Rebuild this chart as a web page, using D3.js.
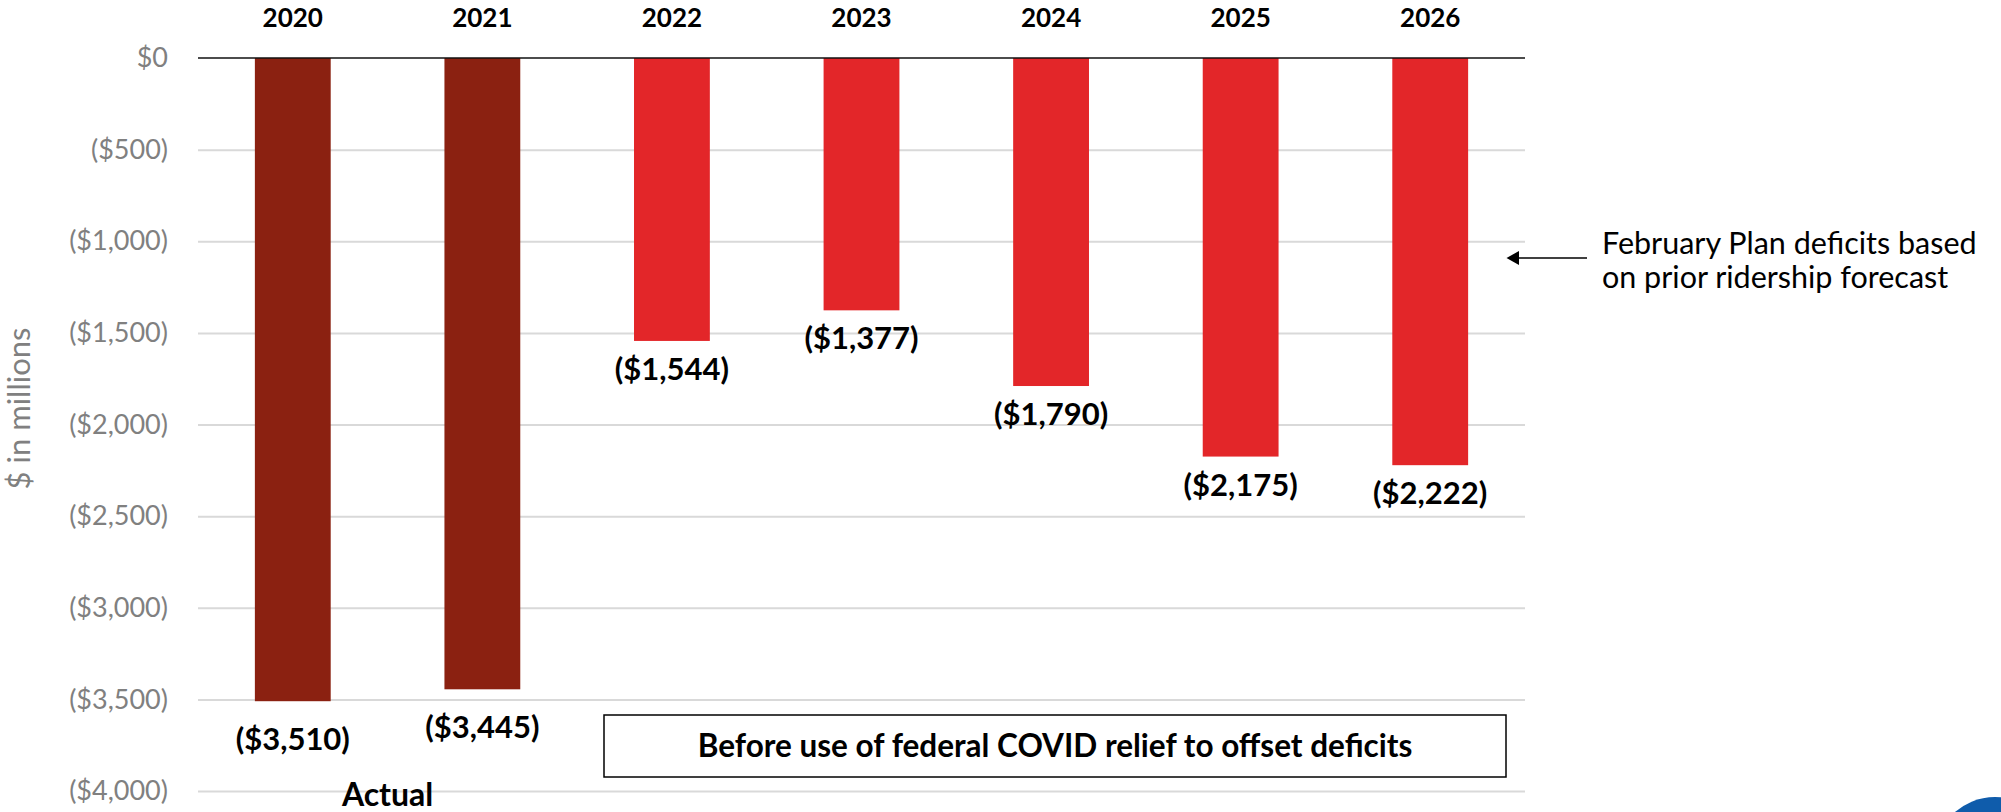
<!DOCTYPE html>
<html>
<head>
<meta charset="utf-8">
<script src="https://cdn.jsdelivr.net/npm/d3@7"></script>
<style>
  html, body { margin: 0; padding: 0; background: #ffffff; }
  svg { display: block; font-family: Lato, "Open Sans", sans-serif; }
</style>
</head>
<body>
<svg id="chart" width="2001" height="812"></svg>
<script>
// Operating deficits by year ($ in millions)
const years = ["2020", "2021", "2022", "2023", "2024", "2025", "2026"];
const deficits = [-3510, -3445, -1544, -1377, -1790, -2175, -2222];
const isActual = [true, true, false, false, false, false, false];
const yTicks = [0, -500, -1000, -1500, -2000, -2500, -3000, -3500, -4000];
const yDomain = [-4000, 0];
const axisTitle = "$ in millions";
const actualLabel = "Actual";
const boxNote = "Before use of federal COVID relief to offset deficits";
const sideNote = ["February Plan deficits based", "on prior ridership forecast"];

const colors = { actual: "#8b2111", forecast: "#e32629", grid: "#d9d9d9", tick: "#808080" };

const svg = d3.select("#chart");
const plot = { left: 198, right: 1525, top: 58, bottom: 791 };

const x = d3.scaleBand()
  .domain(years)
  .range([plot.left, plot.right])
  .paddingInner(0.6)
  .paddingOuter(0.3);

const y = d3.scaleLinear().domain(yDomain).range([plot.bottom, plot.top]);

const money = d3.format(",");
const fmt = v => v === 0 ? "$0" : `($${money(Math.abs(v))})`;

// gridlines + tick labels
const yAxis = d3.axisLeft(y)
  .tickValues(yTicks)
  .tickSize(-(plot.right - plot.left))
  .tickPadding(30)
  .tickFormat(fmt);

const gAxis = svg.append("g")
  .attr("transform", `translate(${plot.left},0)`)
  .call(yAxis);
gAxis.select(".domain").remove();
gAxis.selectAll(".tick line")
  .attr("stroke", d => d === 0 ? "none" : colors.grid)
  .attr("stroke-width", 2);
gAxis.selectAll(".tick text")
  .attr("fill", colors.tick)
  .attr("font-size", 27)
  .attr("font-family", "Lato, sans-serif");

// axis title
svg.append("text")
  .attr("transform", `translate(30,${(plot.top + plot.bottom) / 2 - 16}) rotate(-90)`)
  .attr("text-anchor", "middle")
  .attr("fill", colors.tick)
  .attr("font-size", 31)
  .text(axisTitle);

// bars
const rows = years.map((yr, i) => ({ yr, v: deficits[i], actual: isActual[i] }));

svg.append("g").selectAll("rect")
  .data(rows)
  .join("rect")
  .attr("x", d => x(d.yr))
  .attr("width", x.bandwidth())
  .attr("y", d => y(0))
  .attr("height", d => y(d.v) - y(0))
  .attr("fill", d => d.actual ? colors.actual : colors.forecast);

// zero line
svg.append("line")
  .attr("x1", plot.left).attr("x2", plot.right)
  .attr("y1", y(0)).attr("y2", y(0))
  .attr("stroke", "#111").attr("stroke-width", 1.6);

// year labels along the top
svg.append("g").selectAll("text")
  .data(rows)
  .join("text")
  .attr("x", d => x(d.yr) + x.bandwidth() / 2)
  .attr("y", 27)
  .attr("text-anchor", "middle")
  .attr("font-weight", 700)
  .attr("font-size", 26)
  .attr("fill", "#000")
  .text(d => d.yr);

// value labels under each bar
svg.append("g").selectAll("text")
  .data(rows)
  .join("text")
  .attr("x", d => x(d.yr) + x.bandwidth() / 2)
  .attr("y", d => y(d.v) + (d.actual ? 49 : 39))
  .attr("text-anchor", "middle")
  .attr("font-weight", 700)
  .attr("font-size", 31)
  .attr("fill", "#000")
  .text(d => fmt(d.v));

// "Actual" caption centred under the two actual years
const actualYears = rows.filter(d => d.actual).map(d => x(d.yr) + x.bandwidth() / 2);
svg.append("text")
  .attr("x", d3.mean(actualYears))
  .attr("y", 806)
  .attr("text-anchor", "middle")
  .attr("font-weight", 700)
  .attr("font-size", 32)
  .attr("fill", "#000")
  .text(actualLabel);

// boxed note below the forecast years
const box = { x0: 604, x1: 1506, y0: 715, y1: 777 };
svg.append("rect")
  .attr("x", box.x0).attr("y", box.y0)
  .attr("width", box.x1 - box.x0).attr("height", box.y1 - box.y0)
  .attr("fill", "#fff").attr("stroke", "#000").attr("stroke-width", 1.5);
svg.append("text")
  .attr("x", (box.x0 + box.x1) / 2)
  .attr("y", 757)
  .attr("text-anchor", "middle")
  .attr("font-weight", 700)
  .attr("font-size", 31.5)
  .attr("fill", "#000")
  .text(boxNote);

// side annotation with arrow
const arrowY = 258;
svg.append("line")
  .attr("x1", 1587).attr("x2", 1515)
  .attr("y1", arrowY).attr("y2", arrowY)
  .attr("stroke", "#000").attr("stroke-width", 1.6);
svg.append("path")
  .attr("d", `M1506.5,${arrowY} L1519,${arrowY - 7} L1519,${arrowY + 7} Z`)
  .attr("fill", "#000");
svg.append("text")
  .attr("x", 1602)
  .attr("y", 254)
  .attr("font-size", 30.5)
  .attr("fill", "#000")
  .selectAll("tspan")
  .data(sideNote)
  .join("tspan")
  .attr("x", 1602)
  .attr("dy", (d, i) => i === 0 ? 0 : 34)
  .text(d => d);

// corner emblem
svg.append("circle")
  .attr("cx", 1995).attr("cy", 858).attr("r", 61)
  .attr("fill", "#0f5cab");
</script>
</body>
</html>
